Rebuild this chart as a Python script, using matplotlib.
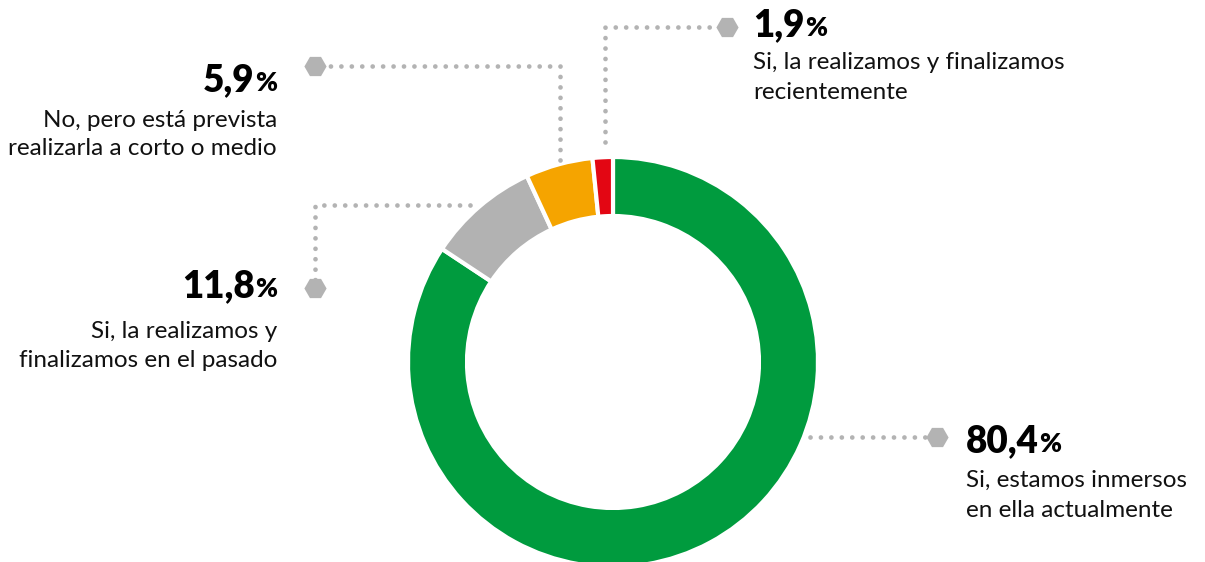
import matplotlib.pyplot as plt

plt.rcParams['font.family'] = ['Lato', 'DejaVu Sans']

# Data
# slice shares as drawn in the picture (the ring geometry), labels as printed
slice_shares = [84.3, 8.8, 5.3, 1.6]
pct_labels = ['80,4', '11,8', '5,9', '1,9']
descriptions = [
    'Si, estamos inmersos\nen ella actualmente',
    'Si, la realizamos y\nfinalizamos en el pasado',
    'No, pero está prevista\nrealizarla a corto o medio',
    'Si, la realizamos y finalizamos\nrecientemente',
]
colors = ['#009B3E', '#B2B2B2', '#F5A400', '#E30613']

W, H = 1205, 562
grey = '#B3B3B3'


def py(y):
    # convert pixel row (from top) to data y
    return H - y


fig = plt.figure(figsize=(W / 100, H / 100), dpi=100)
ax = fig.add_axes([0, 0, 1, 1])

cx, cy, r_out, ring = 613, 362, 205, 59
ax.pie(slice_shares, colors=colors, startangle=90, counterclock=False,
       radius=r_out, center=(cx, py(cy)),
       wedgeprops=dict(width=ring, edgecolor='white', linewidth=3))
ax.set_xlim(0, W)
ax.set_ylim(0, H)
ax.set_aspect('equal')
ax.axis('off')

# leader lines (pixel paths from top-left)
leaders = [
    [(810, 437), (937, 437)],
    [(470, 205), (315, 205), (315, 288)],
    [(560, 160), (560, 66), (315, 66)],
    [(605, 142), (605, 27), (727, 27)],
]
for path in leaders:
    xs = [p[0] for p in path]
    ys = [py(p[1]) for p in path]
    ax.plot(xs, ys, color=grey, lw=3.4, dashes=(0.01, 2.2),
            dash_capstyle='round', solid_capstyle='round', zorder=1)
    ax.plot(xs[-1], ys[-1], marker='H', ms=16, color=grey, mec='none', zorder=2)

# label layout: x, align, number baseline, line1 baseline, line2 baseline
label_pos = [
    (966, 'left', 452, 487, 517),
    (277, 'right', 297, 338, 367),
    (277, 'right', 91, 127, 155),
    (753, 'left', 36, 69, 99),
]

fig.canvas.draw()
rend = fig.canvas.get_renderer()
for (x, ha, b0, b1, b2), num, desc in zip(label_pos, pct_labels, descriptions):
    if ha == 'left':
        t = ax.text(x, py(b0), num, fontsize=26.5, fontweight='heavy',
                    ha='left', va='baseline', color='black')
        bb = t.get_window_extent(rend)
        ax.text(bb.x1 + 0.5, py(b0), '%', fontsize=19, fontweight='heavy',
                ha='left', va='baseline', color='black')
    else:
        p = ax.text(x, py(b0), '%', fontsize=19, fontweight='heavy',
                    ha='right', va='baseline', color='black')
        bb = p.get_window_extent(rend)
        ax.text(bb.x0 - 0.5, py(b0), num, fontsize=26.5, fontweight='heavy',
                ha='right', va='baseline', color='black')
    line1, line2 = desc.split('\n')
    ax.text(x, py(b1), line1, fontsize=17.5, ha=ha, va='baseline', color='#111111')
    ax.text(x, py(b2), line2, fontsize=17.5, ha=ha, va='baseline', color='#111111')

fig.savefig('out.png', dpi=100)
